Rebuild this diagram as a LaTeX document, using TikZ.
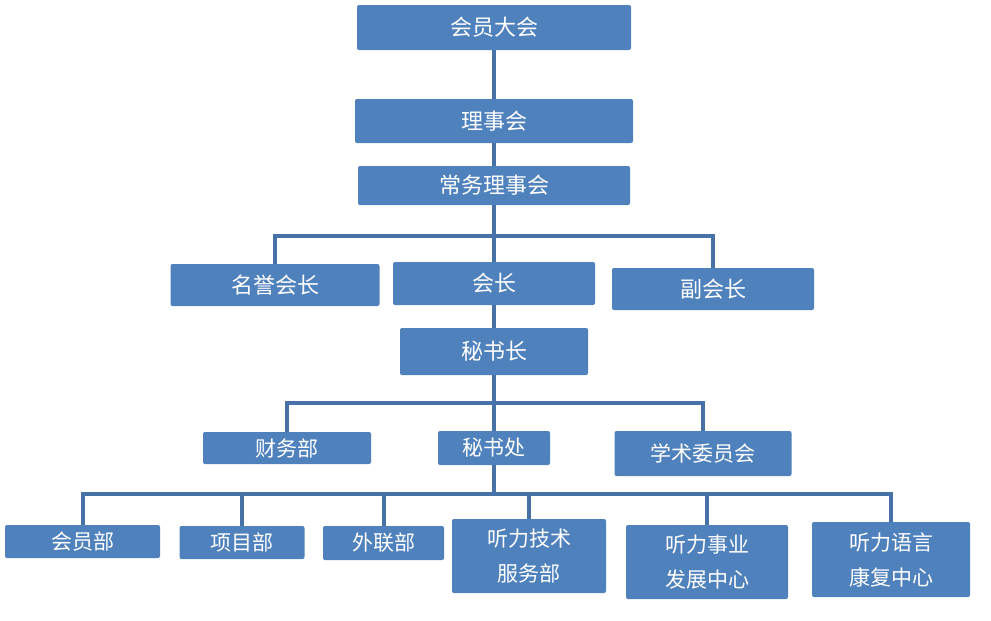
\documentclass[tikz,border=0pt]{standalone}
\usepackage{fontspec}
\setmainfont{Noto Sans CJK SC}
\usepackage{tikz}
\usetikzlibrary{positioning}
\definecolor{boxblue}{HTML}{4F81BD}
\definecolor{lineblue}{HTML}{4672A8}
\tikzstyle{unit} = [rectangle, rounded corners=2pt, fill=boxblue, text=white, inner sep=0pt, align=center, font=\fontsize{22}{35}\selectfont]
\tikzstyle{subunit} = [unit, font=\fontsize{21}{35}\selectfont]
\tikzstyle{link} = [lineblue, line width=4pt]

\begin{document}
\begin{tikzpicture}[x=1pt, y=-1pt]
        \useasboundingbox[fill=white] (0,0) rectangle (991,621);
        \node (congress) [unit, minimum width=274, minimum height=45] at (494,27.5) {会员大会};
        \node (council) [unit, minimum width=278, minimum height=44] at (494,121) {理事会};
        \node (standing) [unit, minimum width=272, minimum height=39] at (494,185.5) {常务理事会};
        \node (honorary) [unit, minimum width=209, minimum height=42] at (275,285) {名誉会长};
        \node (president) [unit, minimum width=202, minimum height=43] at (494,283.5) {会长};
        \node (vice) [unit, minimum width=202, minimum height=42] at (713,289) {副会长};
        \node (secgeneral) [unit, minimum width=188, minimum height=47] at (494,351.5) {秘书长};
        \node (finance) [subunit, minimum width=168, minimum height=32] at (287,448) {财务部};
        \node (secretariat) [subunit, minimum width=112, minimum height=34] at (494,448) {秘书处};
        \node (academic) [subunit, minimum width=177, minimum height=45] at (703,453.5) {学术委员会};
        \node (member) [subunit, minimum width=155, minimum height=33] at (82.5,541.5) {会员部};
        \node (project) [subunit, minimum width=125, minimum height=33] at (242,542.5) {项目部};
        \node (liaison) [subunit, minimum width=121, minimum height=34] at (383.5,543) {外联部};
        \node (techservice) [subunit, minimum width=154, minimum height=74] at (529,556) {听力技术\\服务部};
        \node (development) [subunit, minimum width=162, minimum height=74] at (707,562) {听力事业\\发展中心};
        \node (rehab) [subunit, minimum width=158, minimum height=75] at (891,559.5) {听力语言\\康复中心};

        \coordinate (busone) at (494,236);
        \coordinate (bustwo) at (494,403);
        \coordinate (busthree) at (494,494);

        \draw [link] (congress) -- (council);
        \draw [link] (council) -- (standing);
        \draw [link] (standing) -- (busone);
        \draw [link] (busone) -| (honorary);
        \draw [link] (busone) -| (vice);
        \draw [link] (busone) -- (president);
        \draw [link] (president) -- (secgeneral);
        \draw [link] (secgeneral) -- (bustwo);
        \draw [link] (bustwo) -| (finance);
        \draw [link] (bustwo) -| (academic);
        \draw [link] (bustwo) -- (secretariat);
        \draw [link] (secretariat) -- (busthree);
        \draw [link] (busthree) -| (member);
        \draw [link] (busthree) -| (project);
        \draw [link] (busthree) -| (liaison);
        \draw [link] (busthree) -| (techservice);
        \draw [link] (busthree) -| (development);
        \draw [link] (busthree) -| (rehab);
    \end{tikzpicture}
\end{document}
